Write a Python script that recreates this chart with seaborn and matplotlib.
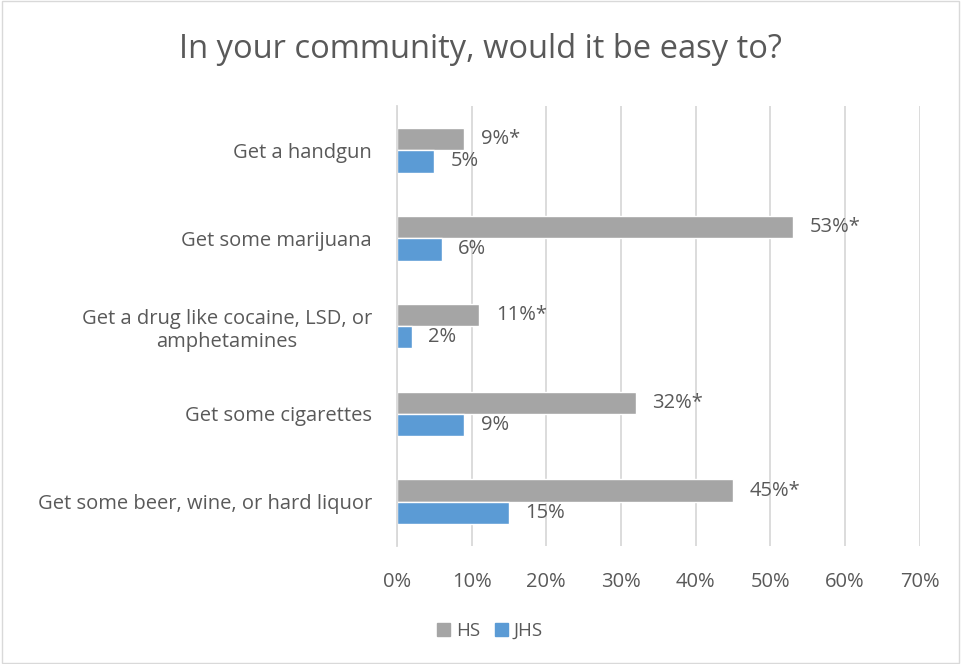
import matplotlib
matplotlib.use("Agg")
import matplotlib.pyplot as plt
import seaborn as sns
import pandas as pd
from matplotlib.patches import Rectangle

categories = ["Get a handgun", "Get some marijuana",
              "Get a drug like cocaine, LSD, or\namphetamines",
              "Get some cigarettes", "Get some beer, wine, or hard liquor"]
hs_values = [9, 53, 11, 32, 45]
jhs_values = [5, 6, 2, 9, 15]
hs_labels = ["9%*", "53%*", "11%*", "32%*", "45%*"]
jhs_labels = ["5%", "6%", "2%", "9%", "15%"]
series = ["HS", "JHS"]
colors = ["#A5A5A5", "#5B9BD5"]
xticks = [0, 10, 20, 30, 40, 50, 60, 70]

df = pd.DataFrame({
    "cat": categories * 2,
    "val": hs_values + jhs_values,
    "series": ["HS"] * len(categories) + ["JHS"] * len(categories),
})

sns.set_style("white")
plt.rcParams["font.family"] = ["Open Sans", "DejaVu Sans"]
txt = "#595959"
fs = 14.5

fig = plt.figure(figsize=(9.61, 6.64), dpi=100)
ax = fig.add_axes([0.413, 0.178, 0.544, 0.662])
sns.barplot(data=df, y="cat", x="val", hue="series", order=categories,
            hue_order=series, palette=colors, orient="h", width=0.51,
            gap=0, ax=ax, legend=False, saturation=1)

ax.set_xlim(0, 70)
ax.set_ylim(4.5, -0.5)
ax.set_xticks(xticks)
ax.set_xticklabels([f"{t}%" for t in xticks], fontsize=fs, color=txt)
ax.tick_params(axis="x", length=0, pad=19)
ax.tick_params(axis="y", length=0, pad=18)
for lab in ax.get_yticklabels():
    lab.set_fontsize(fs)
    lab.set_color(txt)
    lab.set_multialignment("center")
ax.set_xlabel("")
ax.set_ylabel("")
ax.grid(axis="x", color="#D9D9D9", linewidth=1.3)
ax.set_axisbelow(True)
for s in ["top", "right", "bottom"]:
    ax.spines[s].set_visible(False)
ax.spines["left"].set_color("#D9D9D9")
ax.spines["left"].set_linewidth(1.3)

for cont, labs in zip(ax.containers, [hs_labels, jhs_labels]):
    ax.bar_label(cont, labels=labs, padding=12, fontsize=fs, color=txt)

fig.text(0.5, 0.925, "In your community, would it be easy to?",
         ha="center", va="center", fontsize=23.5, color=txt)

handles = [Rectangle((0, 0), 1, 1, color=c) for c in colors]
fig.legend(handles, series, loc="center", bbox_to_anchor=(0.51, 0.05),
           ncol=2, frameon=False, fontsize=13.5, labelcolor=txt,
           handlelength=0.7, handleheight=0.7, handletextpad=0.3,
           columnspacing=0.8)

fig.patches.append(Rectangle((0.002, 0.002), 0.996, 0.996, transform=fig.transFigure,
                             fill=False, edgecolor="#D9D9D9", linewidth=1))
fig.savefig("out.png", dpi=100)
